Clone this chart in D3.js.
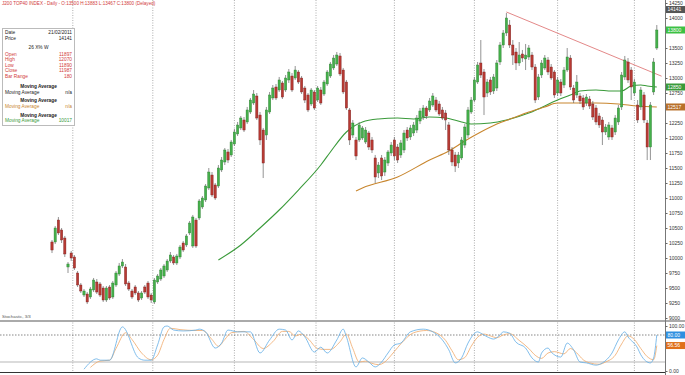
<!DOCTYPE html>
<html lang="en">
<head>
<meta charset="UTF-8">
<title>Daily candlestick chart</title>
<style>
    body {
        margin: 0;
        padding: 0;
        background-color: #fff;
    }
    #chart {
        display: block;
        font-family: Arial, "Liberation Sans", sans-serif;
    }
    .axis text {
        font-size: 5px;
        fill: #333;
    }
    .axis line {
        stroke: #666;
    }
</style>
</head>
<body>
<svg id="chart" width="685" height="375"></svg>

<script src="https://d3js.org/d3.v7.min.js"></script>
<script>
    // daily candles, oldest first
    var opens = [
        10267, 10267, 10633, 10467, 10333, 9850, 10083, 10017, 9750, 9550,
        9383, 9400, 9350, 9467, 9600, 9567, 9500, 9300, 9517, 9350,
        9550, 9733, 9867, 9850, 9583, 9450, 9517, 9417, 9333, 9517,
        9583, 9383, 9267, 9600, 9650, 9700, 9800, 9950, 10017, 9917,
        10017, 10250, 10217, 10417, 10200, 10633, 10667, 10850, 10967, 11167,
        11383, 11217, 11200, 11467, 11600, 11767, 11717, 11900, 12067, 12167,
        12300, 12267, 12433, 12583, 12700, 12383, 12133, 12050, 12433, 12667,
        12850, 12800, 12917, 12800, 12967, 13033, 13000, 13100, 13000, 12833,
        12717, 12567, 12767, 12633, 12800, 12733, 12900, 13033, 13167, 13233,
        13367, 13133, 12933, 12467, 12050, 11967, 11967, 12000, 11933, 12083,
        11967, 11667, 11417, 11667, 11433, 11583, 11750, 11967, 11850, 11717,
        11800, 12133, 12017, 12083, 12133, 12283, 12350, 12500, 12467, 12550,
        12633, 12567, 12467, 12417, 12217, 11800, 11717, 11583, 11667, 11883,
        12050, 12433, 12633, 12933, 13250, 13100, 12750, 12967, 12783, 12833,
        13267, 13550, 13750, 13883, 13550, 13433, 13250, 13400, 13317, 13350,
        13383, 13183, 12683, 13050, 13167, 13300, 13183, 13100, 12750, 12933,
        12883, 13133, 13333, 12833, 12717, 12700, 12667, 12583, 12650, 12567,
        12500, 12367, 12300, 12100, 12017, 12167, 12100, 12267, 12517, 13017,
        13267, 13133, 12750, 12550, 12517, 12717, 12250, 11850, 12767, 13500
    ];
    var highs = [
        10300, 10533, 10683, 10500, 10367, 9933, 10117, 10050, 9783, 9583,
        9483, 9433, 9517, 9667, 9650, 9600, 9533, 9533, 9550, 9617,
        9783, 9917, 9983, 9900, 9617, 9483, 9550, 9450, 9450, 9550,
        9617, 9417, 9667, 9733, 9833, 9900, 9983, 10100, 10050, 10067,
        10217, 10283, 10400, 10617, 10717, 10667, 10983, 11033, 11233, 11500,
        11433, 11250, 11550, 11683, 11833, 11817, 11967, 12150, 12267, 12367,
        12350, 12517, 12667, 12800, 12750, 12433, 12167, 12517, 12767, 12883,
        12900, 13017, 12950, 13050, 13150, 13083, 13200, 13133, 13033, 12867,
        12750, 12833, 12800, 12867, 12850, 12967, 13133, 13267, 13383, 13433,
        13417, 13167, 12967, 12500, 12300, 12017, 12267, 12200, 12183, 12117,
        12017, 11717, 11600, 11717, 11683, 11800, 11933, 12017, 11900, 11967,
        12133, 12183, 12217, 12267, 12383, 12500, 12550, 12533, 12667, 12750,
        12683, 12617, 12517, 12467, 12267, 11850, 11767, 11767, 12017, 12233,
        12517, 12683, 13017, 13267, 13633, 13150, 12983, 13017, 13067, 13300,
        13600, 13800, 14083, 13967, 13633, 13500, 13600, 13467, 13567, 13550,
        13433, 13233, 13067, 13300, 13383, 13350, 13233, 13133, 13017, 12983,
        13183, 13500, 13383, 12883, 13050, 12750, 12717, 12733, 12700, 12617,
        12550, 12417, 12350, 12233, 12267, 12217, 12383, 12550, 13100, 13367,
        13333, 13183, 12983, 12633, 12850, 12767, 12300, 12600, 13333, 13883
    ];
    var lows = [
        10083, 10233, 10383, 10250, 10017, 9750, 9950, 9800, 9517, 9417,
        9350, 9233, 9317, 9433, 9400, 9350, 9267, 9267, 9300, 9317,
        9517, 9700, 9833, 9533, 9450, 9317, 9383, 9267, 9300, 9400,
        9317, 9250, 9233, 9567, 9617, 9667, 9767, 9917, 9883, 9883,
        9983, 10100, 10183, 10383, 10167, 10167, 10633, 10817, 10933, 11133,
        11017, 10967, 11167, 11433, 11550, 11583, 11683, 11867, 12033, 12133,
        12100, 12233, 12400, 12550, 12300, 11883, 11333, 11967, 12400, 12633,
        12633, 12767, 12650, 12767, 12917, 12767, 12967, 12900, 12733, 12583,
        12433, 12533, 12467, 12600, 12550, 12700, 12867, 13000, 13133, 13200,
        13033, 12733, 12467, 11883, 12000, 11633, 11933, 11967, 11900, 11800,
        11750, 11250, 11333, 11300, 11367, 11533, 11700, 11633, 11583, 11667,
        11750, 11950, 11967, 12033, 12083, 12233, 12300, 12317, 12433, 12517,
        12433, 12367, 12300, 12133, 11717, 11533, 11433, 11500, 11633, 11833,
        12000, 12400, 12600, 12900, 13000, 12383, 12683, 12717, 12733, 12783,
        13217, 13500, 13700, 13500, 13217, 13133, 13200, 13267, 13133, 13300,
        13133, 12583, 12633, 13000, 13133, 13050, 12967, 12667, 12700, 12700,
        12833, 13100, 12800, 12583, 12667, 12567, 12467, 12533, 12483, 12300,
        12217, 12167, 11883, 12050, 11967, 11967, 12050, 12217, 12467, 12967,
        12917, 12633, 12700, 12250, 12467, 12250, 11633, 11633, 12717, 13467
    ];
    var closes = [
        10133, 10500, 10417, 10300, 10067, 9900, 10000, 9833, 9550, 9450,
        9450, 9267, 9483, 9633, 9433, 9383, 9300, 9500, 9333, 9583,
        9750, 9867, 9933, 9567, 9483, 9350, 9417, 9300, 9417, 9433,
        9350, 9300, 9633, 9700, 9800, 9867, 9950, 10050, 9917, 10033,
        10183, 10133, 10367, 10583, 10683, 10200, 10950, 11000, 11200, 11433,
        11050, 11000, 11500, 11633, 11800, 11633, 11933, 12100, 12217, 12333,
        12133, 12467, 12633, 12733, 12333, 11967, 11583, 12467, 12717, 12833,
        12667, 12967, 12683, 13000, 13100, 12800, 13133, 12933, 12767, 12633,
        12467, 12800, 12500, 12833, 12583, 12933, 13100, 13233, 13333, 13383,
        13067, 12767, 12500, 11967, 12250, 11700, 12217, 12167, 12133, 11850,
        11800, 11350, 11550, 11367, 11633, 11767, 11883, 11700, 11633, 11917,
        12083, 12000, 12167, 12217, 12333, 12450, 12500, 12367, 12617, 12700,
        12467, 12400, 12333, 12300, 11800, 11600, 11533, 11717, 11967, 12183,
        12467, 12633, 12967, 13217, 13050, 12683, 12933, 12767, 13017, 13250,
        13550, 13750, 14000, 13550, 13383, 13250, 13383, 13333, 13383, 13500,
        13183, 12633, 13017, 13250, 13333, 13100, 13000, 12717, 12967, 12750,
        13133, 13350, 12850, 12633, 12933, 12617, 12517, 12683, 12533, 12350,
        12267, 12217, 12100, 12183, 12217, 12017, 12333, 12500, 13050, 13300,
        12967, 12850, 12933, 12300, 12800, 12300, 11850, 12550, 13267, 13800
    ];

    // moving averages (bar index -> value)
    var maGreenIdx = [52, 59, 65, 71, 77, 84, 87, 92, 97, 102, 108, 113, 118, 123, 128,
                      131, 137, 142, 149, 158, 162, 165, 170, 175, 178, 181, 184, 186, 189];
    var maGreenVal = [9967, 10217, 10500, 10800, 11133, 11550, 11767, 12100, 12267, 12317,
                      12333, 12317, 12350, 12333, 12267, 12233, 12250, 12300, 12417, 12633,
                      12717, 12783, 12800, 12783, 12783, 12867, 12883, 12867, 12850];
    var maOrangeIdx = [95, 97, 108, 118, 124, 129, 134, 139, 144, 149, 154, 158, 165, 170, 177, 183, 189];
    var maOrangeVal = [11117, 11167, 11350, 11633, 11783, 11950, 12100, 12233, 12333, 12433,
                       12517, 12583, 12583, 12583, 12567, 12533, 12517];

    // falling trend line drawn on the chart
    var trendIdx = [142, 190.5];
    var trendVal = [14100, 13030];

    // stochastic %K and %D
    var kIdx = [10, 14, 15, 18, 22, 27, 29, 31, 33, 35, 36, 38, 41, 45, 46, 48, 51, 53, 55, 58,
                62, 65, 68, 71, 73, 75, 77, 79, 82, 84, 86, 89, 91, 92, 95, 97, 99, 101, 103, 105,
                107, 109, 112, 116, 119, 122, 124, 126, 128, 130, 133, 134, 136, 138, 140, 141, 143, 145, 148, 150,
                152, 153, 155, 156, 159, 161, 163, 165, 167, 170, 172, 175, 177, 179, 180, 183, 184, 187, 188, 189];
    var kVal = [4, 27, 24, 24, 98, 29, 24, 24, 58, 98, 100, 91, 89, 91, 93, 87, 51, 62, 91, 87,
                87, 40, 69, 93, 91, 69, 89, 76, 42, 53, 40, 69, 93, 76, 9, 29, 20, 9, 20, 40,
                58, 62, 87, 93, 87, 69, 47, 18, 29, 62, 87, 84, 76, 71, 80, 87, 84, 64, 51, 29,
                20, 40, 51, 42, 31, 62, 47, 20, 18, 13, 18, 40, 69, 87, 76, 51, 36, 18, 29, 80];
    var dIdx = [12, 15, 18, 20, 23, 25, 28, 31, 33, 35, 37, 40, 45, 47, 50, 52, 54, 56, 60, 63,
                66, 69, 72, 74, 76, 78, 80, 83, 85, 87, 90, 92, 94, 96, 98, 100, 102, 104, 106, 108,
                110, 113, 117, 120, 123, 125, 127, 129, 131, 133, 135, 137, 139, 141, 143, 146, 149, 151, 153, 155,
                157, 160, 162, 164, 166, 168, 171, 173, 176, 178, 180, 182, 184, 186, 188, 189];
    var dVal = [8, 22, 24, 50, 85, 70, 40, 25, 35, 70, 95, 92, 90, 90, 70, 55, 70, 85, 88, 70,
                50, 65, 88, 88, 78, 82, 72, 50, 48, 48, 65, 82, 50, 20, 22, 17, 14, 20, 35, 52,
                68, 85, 90, 85, 68, 45, 25, 30, 55, 75, 82, 78, 74, 80, 83, 68, 50, 35, 28, 40,
                43, 38, 50, 40, 25, 18, 15, 20, 35, 60, 78, 70, 50, 32, 25, 56.56];

    // month separators (between bars) and axis ticks
    var gridIdx = [6.5, 31.5, 57, 82.5, 107, 132, 158, 182];
    var priceTicks = d3.range(9000, 14251, 250);
    var stochTicks = [0, 100];
    var cursorPrice = 14141;

    // info box text
    var infoRows = [
        ["Date", "21/02/2011", "#222", "row"],
        ["Price", "14141", "#222", "row"],
        ["26 X% W", "", "#222", "center"],
        ["Open", "11897", "#d23c3c", "row"],
        ["High", "12070", "#d23c3c", "row"],
        ["Low", "11890", "#d23c3c", "row"],
        ["Close", "11987", "#d23c3c", "row"],
        ["Bar Range", "180", "#d23c3c", "row"],
        ["Moving Average", "", "#222", "head"],
        ["Moving Average", "n/a", "#222", "row"],
        ["Moving Average", "", "#222", "head"],
        ["Moving Average", "n/a", "#c8862e", "row"],
        ["Moving Average", "", "#222", "head"],
        ["Moving Average", "10017", "#3a9a3a", "row"]
    ];
    var infoY = [34, 40, 49, 56, 61, 67, 72, 78, 88, 94, 102, 108, 117, 122];

    const svg = d3.select("#chart");

    // scales
    const xScale = d3.scaleLinear().domain([0, opens.length - 1]).range([52, 656.8]);
    const yScale = d3.scaleLinear().domain([9000, 14250]).range([318, 3]);
    const sScale = d3.scaleLinear().domain([0, 100]).range([371, 326]);

    const defs = svg.append("defs");
    defs.append("clipPath").attr("id", "clipMain")
        .append("rect").attr("x", 0).attr("y", 0).attr("width", 665).attr("height", 320);
    defs.append("clipPath").attr("id", "clipStoch")
        .append("rect").attr("x", 0).attr("y", 322).attr("width", 665).attr("height", 50);

    // vertical grid lines
    svg.append("g").selectAll("line").data(gridIdx).join("line")
        .attr("x1", d => xScale(d)).attr("x2", d => xScale(d))
        .attr("y1", 0).attr("y2", 372)
        .attr("stroke", "#999").attr("stroke-width", 0.8)
        .attr("stroke-dasharray", "1,1.5");

    // header
    svg.append("text")
        .attr("x", 2).attr("y", 5)
        .attr("font-size", 4.6).attr("fill", "#d23c3c")
        .text("J200 TOP40 INDEX - Daily - O:13500 H:13883 L:13467 C:13800 (Delayed)");

    // panel borders
    svg.append("rect").attr("x", 0).attr("y", 320).attr("width", 685).attr("height", 2).attr("fill", "#aaa");
    svg.append("line").attr("x1", 0).attr("x2", 665).attr("y1", 372.5).attr("y2", 372.5)
        .attr("stroke", "#333").attr("stroke-width", 1);
    svg.append("line").attr("x1", 665.5).attr("x2", 665.5).attr("y1", 0).attr("y2", 375)
        .attr("stroke", "#777").attr("stroke-width", 1);

    // stochastic level lines
    svg.append("line").attr("x1", 0).attr("x2", 665)
        .attr("y1", sScale(80)).attr("y2", sScale(80))
        .attr("stroke", "#555").attr("stroke-width", 0.7).attr("stroke-dasharray", "1.5,1.5");
    svg.append("line").attr("x1", 0).attr("x2", 665)
        .attr("y1", sScale(20)).attr("y2", sScale(20))
        .attr("stroke", "#999").attr("stroke-width", 0.7);

    const main = svg.append("g").attr("clip-path", "url(#clipMain)");

    // moving averages
    const maLine = d3.line().curve(d3.curveMonotoneX)
        .x(d => xScale(d[0])).y(d => yScale(d[1]));
    main.append("path")
        .datum(maGreenIdx.map((d, i) => [d, maGreenVal[i]]))
        .attr("d", maLine).attr("fill", "none")
        .attr("stroke", "#3a9a3a").attr("stroke-width", 1.1);
    main.append("path")
        .datum(maOrangeIdx.map((d, i) => [d, maOrangeVal[i]]))
        .attr("d", maLine).attr("fill", "none")
        .attr("stroke", "#c8862e").attr("stroke-width", 1.1);

    // trend line
    main.append("line")
        .attr("x1", xScale(trendIdx[0])).attr("y1", yScale(trendVal[0]))
        .attr("x2", xScale(trendIdx[1])).attr("y2", yScale(trendVal[1]))
        .attr("stroke", "#e07a7a").attr("stroke-width", 0.9);

    // candles
    var bw = 2.3;
    var idx = d3.range(opens.length);
    main.append("g").selectAll("line").data(idx).join("line")
        .attr("x1", i => xScale(i)).attr("x2", i => xScale(i))
        .attr("y1", i => yScale(highs[i])).attr("y2", i => yScale(lows[i]))
        .attr("stroke", "#666").attr("stroke-width", 0.7);
    main.append("g").selectAll("rect").data(idx).join("rect")
        .attr("x", i => xScale(i) - bw / 2)
        .attr("y", i => yScale(Math.max(opens[i], closes[i])))
        .attr("width", bw)
        .attr("height", i => Math.max(1, Math.abs(yScale(opens[i]) - yScale(closes[i]))))
        .attr("fill", i => closes[i] >= opens[i] ? "#44b04a" : "#b83a33")
        .attr("stroke", i => closes[i] >= opens[i] ? "#2e7d32" : "#7a2020")
        .attr("stroke-width", 0.4);

    // stochastic lines
    const stoch = svg.append("g").attr("clip-path", "url(#clipStoch)");
    const sLine = d3.line().curve(d3.curveMonotoneX)
        .x(d => xScale(d[0])).y(d => sScale(d[1]));
    stoch.append("path")
        .datum(dIdx.map((d, i) => [d, dVal[i]]))
        .attr("d", sLine).attr("fill", "none")
        .attr("stroke", "#f0a868").attr("stroke-width", 0.8);
    stoch.append("path")
        .datum(kIdx.map((d, i) => [d, kVal[i]]))
        .attr("d", sLine).attr("fill", "none")
        .attr("stroke", "#62ade6").attr("stroke-width", 0.8);

    // value tags on the axis (tick labels under a tag are hidden, as in the original)
    var last = opens.length - 1;
    var tags = [
        [yScale(cursorPrice), String(cursorPrice), "#555"],
        [yScale(closes[last]), String(closes[last]), "#3cc043"],
        [yScale(maGreenVal[maGreenVal.length - 1]), String(maGreenVal[maGreenVal.length - 1]), "#3a9a3a"],
        [yScale(maOrangeVal[maOrangeVal.length - 1]), String(maOrangeVal[maOrangeVal.length - 1]), "#b8702a"],
        [sScale(kVal[kVal.length - 1]), kVal[kVal.length - 1].toFixed(2), "#2f8fe0"],
        [sScale(dVal[dVal.length - 1]), dVal[dVal.length - 1].toFixed(2), "#e0701a"]
    ];
    function clearOfTags(y) {
        return tags.every(t => Math.abs(t[0] - y) > 5.5);
    }

    // right axes
    svg.append("g").attr("class", "axis")
        .attr("transform", "translate(665.5,0)")
        .call(d3.axisRight(yScale).tickValues(priceTicks.filter(v => clearOfTags(yScale(v))))
            .tickSize(2).tickPadding(1.5).tickFormat(d3.format("d")))
        .call(g => g.select(".domain").remove());
    svg.append("g").attr("class", "axis")
        .attr("transform", "translate(665.5,0)")
        .call(d3.axisRight(sScale).tickValues(stochTicks).tickSize(2).tickPadding(1.5).tickFormat(d3.format(".2f")))
        .call(g => g.select(".domain").remove());

    tags.forEach(function(t) {
        svg.append("rect").attr("x", 666).attr("y", t[0] - 3.5)
            .attr("width", 19).attr("height", 7).attr("fill", t[2]);
        svg.append("text").attr("x", 667.5).attr("y", t[0] + 1.8)
            .attr("font-size", 5).attr("fill", "#fff").text(t[1]);
    });

    // info box
    svg.append("rect").attr("x", 2.5).attr("y", 28.5).attr("width", 72).attr("height", 97)
        .attr("fill", "#fff").attr("stroke", "#bbb").attr("stroke-width", 1);
    infoRows.forEach(function(r, i) {
        var y = infoY[i];
        if (r[3] === "row") {
            svg.append("text").attr("x", 5).attr("y", y).attr("font-size", 4.8).attr("fill", r[2]).text(r[0]);
            svg.append("text").attr("x", 72).attr("y", y).attr("font-size", 4.8).attr("fill", r[2])
                .attr("text-anchor", "end").text(r[1]);
        } else {
            svg.append("text").attr("x", 38.5).attr("y", y).attr("font-size", 4.8).attr("fill", r[2])
                .attr("text-anchor", "middle").attr("font-weight", r[3] === "head" ? "bold" : "normal").text(r[0]);
        }
    });

    // indicator name
    svg.append("text").attr("x", 2).attr("y", 317.5)
        .attr("font-size", 4.4).attr("fill", "#555").text("Stochastic, 3/3");
</script>
</body>
</html>
